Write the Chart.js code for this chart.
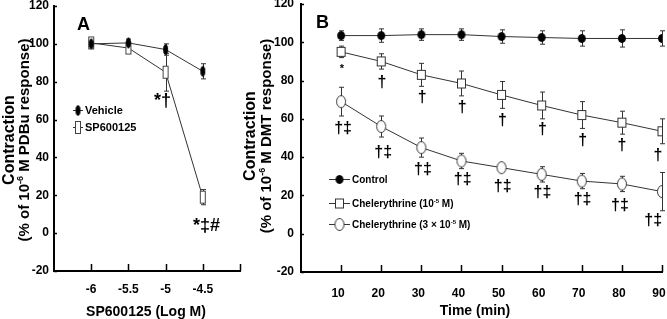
<!DOCTYPE html>
<html><head><meta charset="utf-8">
<script src="https://cdn.jsdelivr.net/npm/chart.js@4.4.1/dist/chart.umd.min.js"></script>
<style>
html,body{margin:0;padding:0;background:#fff;width:667px;height:319px;overflow:hidden}
canvas{position:absolute;top:0}
#ca{left:0}
#cb{left:230px}
</style></head><body>
<canvas id="ca" width="250" height="319"></canvas>
<canvas id="cb" width="437" height="319"></canvas>
<script>
// ---------- Panel A data ----------
const doseA = [-6, -5.5, -5, -4.5];
const vehicle = [100, 100.5, 97, 85.5];
const vehicleErr = [1.5, 2, 3, 4];
const sp600125 = [100.5, 97.8, 85, 19];
const sp600125Err = [2, 2.5, 10, 4];
const yTicksA = [-20, 0, 20, 40, 60, 80, 100, 120];
const xTicksA = ['-6', '-5.5', '-5', '-4.5'];
const annotA = [
  {x: -5.04, y: 70, text: '*†'},
  {x: -4.45, y: 4, text: '*‡#'}
];
// ---------- Panel B data ----------
const timeB = [10, 20, 30, 40, 50, 60, 70, 80, 90];
const control = [103.5, 103.5, 104, 104, 103, 102.5, 102, 102, 102];
const controlErr = [2.5, 3.5, 3, 3, 3.5, 3.5, 4, 4.5, 4];
const chel1 = [95, 90, 83, 78.5, 72.5, 67, 62, 58, 53.5];
const chel1Err = [3, 4, 6, 6.5, 7, 7, 7, 6, 6.5];
const chel3 = [69, 56, 45, 38, 34.5, 31, 27.5, 26, 22];
const chel3Err = [7.5, 5.5, 5, 4, 2, 4, 4, 4, 10];
const annotB1 = ['*', '†', '†', '†', '†', '†', '†', '†', '†'];
const annotB1X = [10.2, 20.2, 30.2, 40.2, 50.2, 60.2, 70.2, 80, 89];
const annotB1Y = [86, 79, 71, 66, 59.3, 54.5, 48.5, 46, 41];
const annotB2 = ['†‡', '†‡', '†‡', '†‡', '†‡', '†‡', '†‡', '†‡', '†‡'];
const annotB2X = [10.5, 20.5, 30.4, 40.3, 50.3, 60.2, 70.2, 79.5, 87.8];
const annotB2Y = [55, 42.6, 33.7, 28.5, 24.4, 21.3, 17.9, 14.5, 6.7];

const FONT = '"Liberation Sans", Arial, sans-serif';

function marker(shape, w, h, fill, stroke, lw) {
  const c = document.createElement('canvas');
  c.width = w + 2; c.height = h + 2;
  const g = c.getContext('2d');
  g.fillStyle = fill; g.strokeStyle = stroke; g.lineWidth = lw;
  if (shape === 'rect') {
    g.fillRect(1, 1, w, h);
    g.strokeRect(1 + lw / 2, 1 + lw / 2, w - lw, h - lw);
  } else {
    g.beginPath();
    g.ellipse((w + 2) / 2, (h + 2) / 2, w / 2 - lw / 2, h / 2 - lw / 2, 0, 0, Math.PI * 2);
    g.fill(); g.stroke();
  }
  return c;
}
const mVehicle = marker('ellipse', 5, 11, '#000', '#000', 1);
const mSP = marker('rect', 6, 13, '#fff', '#444', 1);
const mControl = marker('ellipse', 8, 9, '#000', '#000', 1);
const mChel1 = marker('rect', 9, 10, '#fff', '#333', 1);
const mChel3 = marker('ellipse', 10, 13, '#fff', '#333', 1);

function rich(ctx, parts, x, y, size, align) {
  const sup = Math.round(size * 0.62);
  let w = 0;
  parts.forEach(p => {
    ctx.font = 'bold ' + (p[1] ? sup : size) + 'px ' + FONT;
    w += ctx.measureText(p[0]).width;
  });
  let cx = align === 'center' ? x - w / 2 : x;
  ctx.textAlign = 'left';
  ctx.textBaseline = 'alphabetic';
  parts.forEach(p => {
    ctx.font = 'bold ' + (p[1] ? sup : size) + 'px ' + FONT;
    ctx.fillText(p[0], cx, p[1] ? y - size * 0.38 : y);
    cx += ctx.measureText(p[0]).width;
  });
}

function errorBars(chart, errs) {
  const ctx = chart.ctx;
  ctx.save();
  ctx.strokeStyle = '#333'; ctx.lineWidth = 1;
  chart.data.datasets.forEach((ds, i) => {
    const meta = chart.getDatasetMeta(i);
    const ys = chart.scales.y;
    meta.data.forEach((pt, j) => {
      const v = ds.data[j].y, e = errs[i][j];
      const x = Math.round(pt.x) + 0.5;
      const y1 = ys.getPixelForValue(v + e), y2 = ys.getPixelForValue(v - e);
      ctx.beginPath();
      ctx.moveTo(x, y1); ctx.lineTo(x, y2);
      ctx.moveTo(x - 2.5, y1); ctx.lineTo(x + 2.5, y1);
      ctx.moveTo(x - 2.5, y2); ctx.lineTo(x + 2.5, y2);
      ctx.stroke();
    });
  });
  ctx.restore();
}

function axisTicks(chart, xVals) {
  const ctx = chart.ctx, a = chart.chartArea;
  const xs = chart.scales.x, ys = chart.scales.y;
  ctx.save();
  ctx.strokeStyle = '#000'; ctx.lineWidth = 1.5;
  ctx.beginPath();
  ys.ticks.forEach(t => {
    const y = Math.round(ys.getPixelForValue(t.value)) + 0.5;
    ctx.moveTo(a.left, y); ctx.lineTo(a.left + 3, y);
  });
  xVals.forEach(v => {
    const x = Math.round(xs.getPixelForValue(v)) + 0.5;
    ctx.moveTo(x, a.bottom); ctx.lineTo(x, a.bottom - 7);
  });
  ctx.stroke();
  ctx.restore();
}

function legend(ctx, items, x1, x2, tx, size) {
  ctx.save();
  items.forEach(it => {
    ctx.strokeStyle = '#333'; ctx.lineWidth = 1;
    ctx.beginPath(); ctx.moveTo(x1, it.y + 0.5); ctx.lineTo(x2, it.y + 0.5); ctx.stroke();
    const m = it.m;
    ctx.drawImage(m, (x1 + x2) / 2 - m.width / 2, it.y + 0.5 - m.height / 2);
    ctx.fillStyle = '#000';
    rich(ctx, it.parts, tx, it.y + size * 0.36, size, 'left');
  });
  ctx.restore();
}

function pts(xs, ys) { return xs.map((x, i) => ({x: x, y: ys[i]})); }

function noPad(s) { s.paddingLeft = 0; s.paddingRight = 0; s.paddingTop = 0; s.paddingBottom = 0; }

function baseScales(cfg) {
  return {
    x: {
      type: 'linear', min: cfg.xmin, max: cfg.xmax,
      afterFit: s => { s.height = cfg.xh; noPad(s); },
      afterBuildTicks: s => { s.ticks = cfg.xticks.map(v => ({value: v})); },
      grid: {display: true, drawOnChartArea: false, drawTicks: false, color: 'rgba(0,0,0,0)'},
      border: {display: true, color: '#000', width: 2},
      ticks: {autoSkip: false, maxRotation: 0, padding: cfg.xpad, labelOffset: cfg.xoff, color: '#000',
        font: {family: FONT, size: 12, weight: 'bold'}, callback: cfg.xcb}
    },
    y: {
      type: 'linear', min: -20, max: 120,
      afterFit: s => { s.width = cfg.yw; noPad(s); },
      afterBuildTicks: s => { s.ticks = yTicksA.map(v => ({value: v})); },
      grid: {display: true, drawOnChartArea: false, drawTicks: false, color: 'rgba(0,0,0,0)'},
      border: {display: true, color: '#000', width: 2},
      ticks: {padding: cfg.ypad, color: '#000', font: {family: FONT, size: 12, weight: 'bold'}}
    }
  };
}

// ---------- Chart A ----------
const labelA = {};
xTicksA.forEach(t => { labelA[parseFloat(t)] = t; });
new Chart(document.getElementById('ca'), {
  type: 'line',
  data: {datasets: [
    {data: pts(doseA, vehicle), borderColor: '#333', borderWidth: 1, pointStyle: mVehicle, pointRadius: 6},
    {data: pts(doseA, sp600125), borderColor: '#333', borderWidth: 1, pointStyle: mSP, pointRadius: 6}
  ]},
  options: {
    responsive: false, animation: false, devicePixelRatio: 1,
    layout: {autoPadding: false, padding: {top: 6, right: 10, bottom: 0, left: 0}},
    plugins: {legend: {display: false}, tooltip: {enabled: false}},
    scales: baseScales({xmin: -6.5, xmax: -4, xh: 48, xpad: 11, xoff: 0, yw: 54, ypad: 5,
      xticks: [-6.5, -6, -5.5, -5, -4.5, -4],
      xcb: v => (labelA[v] !== undefined ? labelA[v] : '')})
  },
  plugins: [{
    id: 'extrasA',
    beforeDatasetsDraw(chart) { errorBars(chart, [vehicleErr, sp600125Err]); },
    afterDraw(chart) {
      const ctx = chart.ctx, xs = chart.scales.x, ys = chart.scales.y;
      axisTicks(chart, [-6, -5.5, -5, -4.5, -4]);
      ctx.save();
      ctx.fillStyle = '#000';
      ctx.font = 'bold 18px ' + FONT; ctx.textAlign = 'left'; ctx.textBaseline = 'middle';
      ctx.fillText('A', 77, 25);
      ctx.font = 'bold 18px ' + FONT; ctx.textAlign = 'center';
      annotA.forEach(a => {
        ctx.fillText(a.text, xs.getPixelForValue(a.x), ys.getPixelForValue(a.y));
      });
      rich(ctx, [['SP600125 (Log M)', false]], 146, 316, 14, 'center');
      ctx.translate(14, 140); ctx.rotate(-Math.PI / 2);
      rich(ctx, [['Contraction', false]], 0, 0, 16, 'center');
      rich(ctx, [['(% of 10', false], ['-6', true], [' M PDBu response)', false]], 0, 15, 15, 'center');
      ctx.restore();
      legend(ctx, [
        {y: 110, m: mVehicle, parts: [['Vehicle', false]]},
        {y: 127, m: mSP, parts: [['SP600125', false]]}
      ], 73, 83, 85, 11);
    }
  }]
});

// ---------- Chart B ----------
new Chart(document.getElementById('cb'), {
  type: 'line',
  data: {datasets: [
    {data: pts(timeB, control), borderColor: '#333', borderWidth: 1, pointStyle: mControl, pointRadius: 6},
    {data: pts(timeB, chel1), borderColor: '#333', borderWidth: 1, pointStyle: mChel1, pointRadius: 6},
    {data: pts(timeB, chel3), borderColor: '#333', borderWidth: 1, pointStyle: mChel3, pointRadius: 6}
  ]},
  options: {
    responsive: false, animation: false, devicePixelRatio: 1,
    layout: {autoPadding: false, padding: {top: 4, right: 5, bottom: 0, left: 0}},
    plugins: {legend: {display: false}, tooltip: {enabled: false}},
    scales: baseScales({xmin: 0, xmax: 90, xh: 47, xpad: 14, xoff: -3, yw: 71, ypad: 7,
      xticks: [0].concat(timeB),
      xcb: v => (v === 0 ? '' : String(v))})
  },
  plugins: [{
    id: 'extrasB',
    beforeDatasetsDraw(chart) { errorBars(chart, [controlErr, chel1Err, chel3Err]); },
    afterDraw(chart) {
      const ctx = chart.ctx, xs = chart.scales.x, ys = chart.scales.y;
      axisTicks(chart, timeB);
      ctx.save();
      ctx.fillStyle = '#000';
      ctx.font = 'bold 18px ' + FONT; ctx.textAlign = 'left'; ctx.textBaseline = 'middle';
      ctx.fillText('B', 86, 23);
      ctx.textAlign = 'center';
      timeB.forEach((t, i) => {
        ctx.font = 'bold ' + (annotB1[i] === '*' ? 11 : 16) + 'px ' + FONT;
        ctx.fillText(annotB1[i], xs.getPixelForValue(annotB1X[i]), ys.getPixelForValue(annotB1Y[i]));
        ctx.font = 'bold 16px ' + FONT;
        ctx.fillText(annotB2[i], xs.getPixelForValue(annotB2X[i]), ys.getPixelForValue(annotB2Y[i]));
      });
      rich(ctx, [['Time (min)', false]], 245, 315, 14, 'center');
      ctx.translate(25, 136); ctx.rotate(-Math.PI / 2);
      rich(ctx, [['Contraction', false]], 0, 0, 16, 'center');
      rich(ctx, [['(% of 10', false], ['-6', true], [' M DMT response)', false]], 0, 16, 15, 'center');
      ctx.restore();
      legend(ctx, [
        {y: 179, m: mControl, parts: [['Control', false]]},
        {y: 203, m: mChel1, parts: [['Chelerythrine (10', false], ['-5', true], [' M)', false]]},
        {y: 224, m: mChel3, parts: [['Chelerythrine (3 × 10', false], ['-5', true], [' M)', false]]}
      ], 99, 120, 122, 10);
    }
  }]
});
</script>
</body></html>
